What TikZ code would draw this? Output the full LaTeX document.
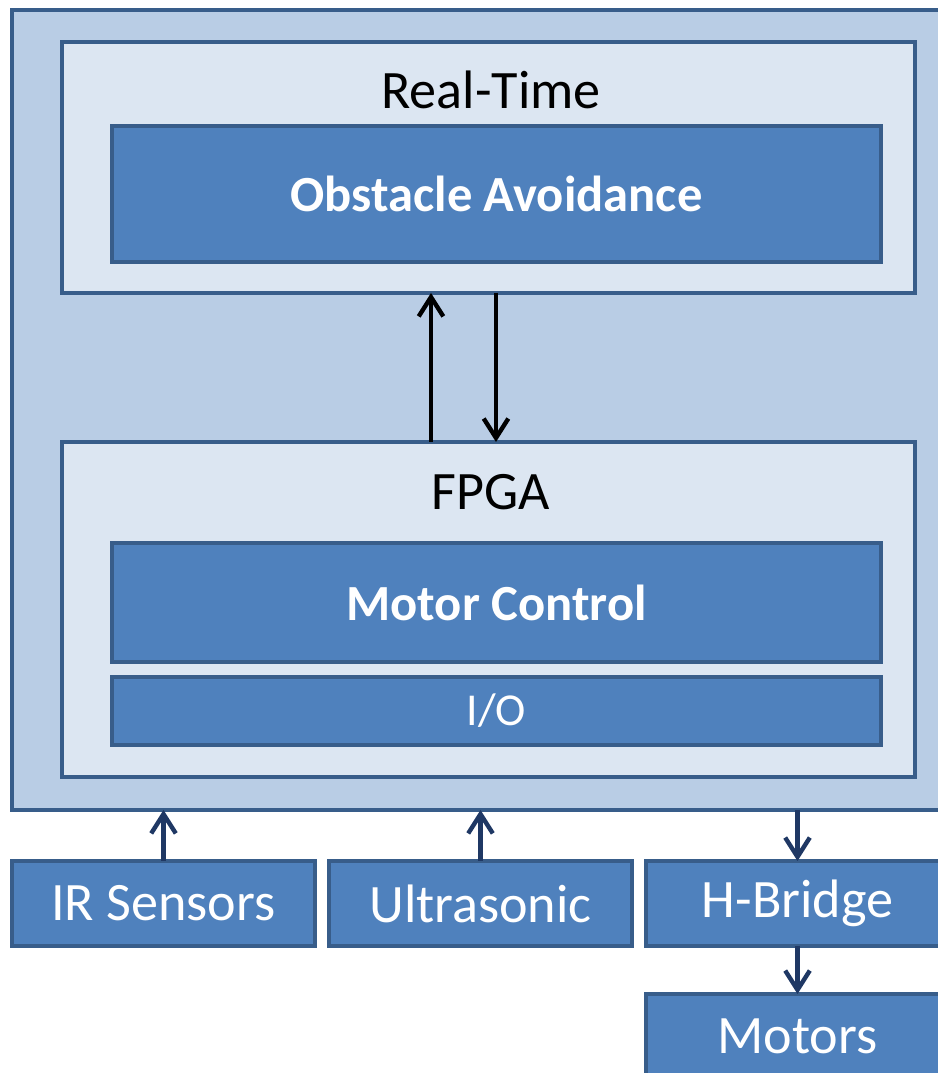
\documentclass[tikz,border=0pt]{standalone}
\usepackage{fontspec}
\setmainfont{Carlito}
\usetikzlibrary{arrows.meta,positioning}
\definecolor{outerfill}{HTML}{B9CDE5}
\definecolor{innerfill}{HTML}{DCE6F2}
\definecolor{blockfill}{HTML}{4F81BD}
\definecolor{blockline}{HTML}{385D8A}
\definecolor{linknavy}{HTML}{1F3864}

\tikzset{
  frame/.style={draw=blockline, line width=1.4pt, inner sep=0pt, outer sep=0pt},
  panel/.style={frame, fill=innerfill, minimum width=8.53cm},
  block/.style={frame, fill=blockfill, text=white, font=\fontsize{15.4}{18}\selectfont},
  link/.style={->, line width=1.25pt},
}

\begin{document}
\begin{tikzpicture}[>={Straight Barb[length=5.5pt,width=7pt]}]
  \useasboundingbox (0,0) rectangle (9.38,10.73);

  \node[frame, fill=outerfill, minimum width=9.53cm, minimum height=8cm] (cRIO) at (4.885,6.63) {};

  \node[panel, minimum height=2.51cm] (rt) at (4.885,9.055) {};
  \node[font=\fontsize{15.4}{18}\selectfont] (rtname) at (4.91,9.83) {Real-Time};
  \node[block, minimum width=7.69cm, minimum height=1.36cm, font=\bfseries\fontsize{14.4}{17}\selectfont] (avoid) at (4.965,8.79) {Obstacle Avoidance};

  \node[panel, minimum height=3.35cm] (fpga) at (4.885,4.635) {};
  \node[font=\fontsize{15.4}{18}\selectfont] (fpganame) at (4.905,5.81) {FPGA};
  \node[block, minimum width=7.69cm, minimum height=1.19cm, font=\bfseries\fontsize{14.4}{17}\selectfont] (motor) at (4.965,4.705) {Motor Control};
  \node[block, minimum width=7.69cm, minimum height=0.68cm, font=\fontsize{13}{15}\selectfont] (io) at (4.965,3.62) {I/O};

  \draw[link] ([xshift=-0.575cm]fpga.north) -- ([xshift=-0.575cm]rt.south);
  \draw[link] ([xshift=0.075cm]rt.south) -- ([xshift=0.075cm]fpga.north);

  \node[block, minimum width=3.03cm, minimum height=0.85cm] (ir) at (1.635,1.695) {IR Sensors};
  \node[block, minimum width=3.03cm, minimum height=0.85cm, right=0.14cm of ir] (sonar) {Ultrasonic};
  \node[block, minimum width=3.03cm, minimum height=0.85cm, right=0.14cm of sonar] (hbridge) {H-Bridge};
  \node[block, minimum width=3.03cm, minimum height=0.85cm, below=0.48cm of hbridge] (motors) {Motors};

  \draw[link, linknavy] (ir.north) -- (ir.north |- cRIO.south);
  \draw[link, linknavy] (sonar.north) -- (sonar.north |- cRIO.south);
  \draw[link, linknavy] (hbridge.north |- cRIO.south) -- (hbridge.north);
  \draw[link, linknavy] (hbridge.south) -- (motors.north);
\end{tikzpicture}
\end{document}
